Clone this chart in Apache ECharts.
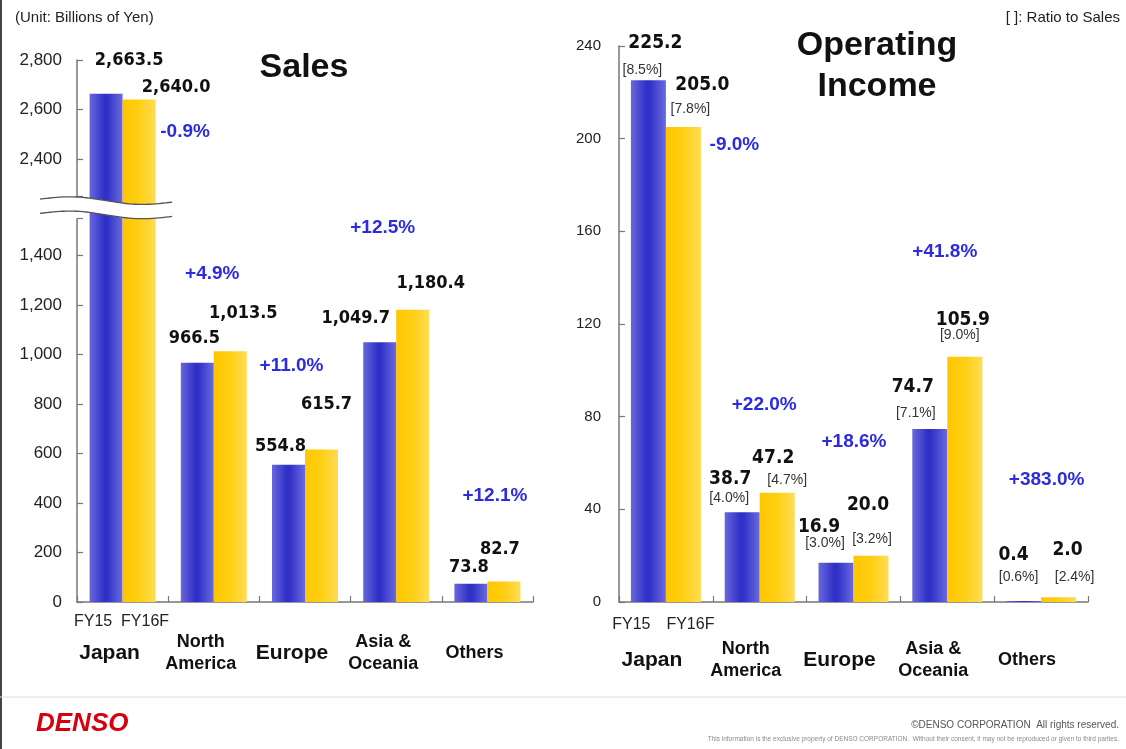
<!DOCTYPE html>
<html>
<head>
<meta charset="utf-8">
<script src="https://cdn.jsdelivr.net/npm/echarts@6.0.0/dist/echarts.min.js"></script>
<style>
  html, body { margin: 0; padding: 0; background: #fff; }
  #chart { width: 1126px; height: 749px; }
</style>
</head>
<body>
<div id="chart"></div>
<script>
// ---- data (billions of yen) ----
const regions = ['Japan', 'North\nAmerica', 'Europe', 'Asia &\nOceania', 'Others'];
const periods = ['FY15', 'FY16F'];

const salesFY15  = [2663.5, 966.5, 554.8, 1049.7, 73.8];
const salesFY16F = [2640.0, 1013.5, 615.7, 1180.4, 82.7];
const salesGrowth = ['-0.9%', '+4.9%', '+11.0%', '+12.5%', '+12.1%'];

const incomeFY15  = [225.2, 38.7, 16.9, 74.7, 0.4];
const incomeFY16F = [205.0, 47.2, 20.0, 105.9, 2.0];
const ratioFY15  = ['[8.5%]', '[4.0%]', '[3.0%]', '[7.1%]', '[0.6%]'];
const ratioFY16F = ['[7.8%]', '[4.7%]', '[3.2%]', '[9.0%]', '[2.4%]'];
const incomeGrowth = ['-9.0%', '+22.0%', '+18.6%', '+41.8%', '+383.0%'];

const salesTicks  = [0, 200, 400, 600, 800, 1000, 1200, 1400, 2400, 2600, 2800];
const incomeTicks = [0, 40, 80, 120, 160, 200, 240];
const salesBreak  = [1550, 2250];   // compressed part of the sales axis

// ---- layout ----
const G1 = { left: 77, right: 593, top: 60, bottom: 147 };
const G2 = { left: 619, right: 38, top: 46, bottom: 147 };
const BW1 = 33, BW2 = 35;

// label nudges [dx, dy] for value labels
const salesShift15  = [[23, -19], [-3, -10], [-8, -4], [-24, -10], [-2, -2]];
const salesShift16  = [[37, 2], [13, -24], [5, -31], [18, -13], [-4, -18]];
const incomeShift15 = [[7, -23], [-12, -19], [-17, -21], [-17, -27], [-10, -32]];
const incomeShift16 = [[19, -28], [-4, -20], [-3, -36], [-2, -22], [9, -33]];
// ratio labels relative to bar top centre
const ratioShift15 = [[-6, -10], [-13, -14], [-11, -20], [-14, -16], [-5, -24]];
const ratioShift16 = [[7, -18], [10, -13], [1, -17], [-5, -22], [16, -20]];
// growth labels relative to the FY16F bar top centre
const salesGrowthShift  = [[46, 32], [-18, -77], [-30, -84], [-30, -82], [-9, -86]];
const incomeGrowthShift = [[51, 18], [-13, -88], [-17, -114], [-20, -105], [-12, -118]];

const BLUE = new echarts.graphic.LinearGradient(0, 0, 1, 0, [
  { offset: 0, color: '#6868dc' },
  { offset: 0.45, color: '#2f2fc7' },
  { offset: 0.55, color: '#3232c9' },
  { offset: 1, color: '#6a6ade' }
]);
const YELLOW = new echarts.graphic.LinearGradient(0, 0, 1, 0, [
  { offset: 0, color: '#ffc600' },
  { offset: 0.5, color: '#ffcf14' },
  { offset: 1, color: '#ffdc55' }
]);

const VALUE_FONT = "'DejaVu Sans Condensed', 'DejaVu Sans', Arial, sans-serif";
const fmtSales = v => v.toLocaleString('en-US', { minimumFractionDigits: 1, maximumFractionDigits: 1 });
const fmtIncome = v => v.toFixed(1);

function barData(values, shifts) {
  return values.map((v, i) => ({ value: v, label: { offset: shifts[i] } }));
}

const regionRich = {
  big: { fontSize: 21, fontWeight: 'bold', color: '#111', fontFamily: 'Arial, Liberation Sans, sans-serif', lineHeight: 22 },
  mid: { fontSize: 18, fontWeight: 'bold', color: '#111', fontFamily: 'Arial, Liberation Sans, sans-serif', lineHeight: 22 }
};
function regionLabel(name) {
  const style = (name === 'Japan' || name === 'Europe') ? 'big' : 'mid';
  return name.split('\n').map(s => '{' + style + '|' + s + '}').join('\n');
}

function catAxis(gridIndex, margin, shift) {
  return {
    type: 'category', gridIndex, data: regions,
    axisLine: { show: true, lineStyle: { color: '#777', width: 1.5 } },
    axisTick: { show: true, inside: true, length: 6, lineStyle: { color: '#777', width: 1.2 } },
    axisLabel: {
      interval: 0, margin, verticalAlign: 'middle', align: 'center',
      padding: [0, shift * 2, 0, 0],
      formatter: regionLabel, rich: regionRich
    },
    splitLine: { show: false }
  };
}

const chart = echarts.init(document.getElementById('chart'), null, { renderer: 'canvas' });

const option = {
  backgroundColor: '#fff',
  animation: false,
  grid: [
    { left: G1.left, right: G1.right, top: G1.top, bottom: G1.bottom },
    { left: G2.left, right: G2.right, top: G2.top, bottom: G2.bottom }
  ],
  xAxis: [catAxis(0, 51, 13), catAxis(1, 58, 14)],
  yAxis: [
    {
      type: 'value', gridIndex: 0, min: 0, max: 2800, interval: 200,
      breaks: [{ start: salesBreak[0], end: salesBreak[1], gap: 90 }],
      breakArea: { show: false, expandOnClick: false },
      axisLine: { show: true, lineStyle: { color: '#777', width: 1.5 } },
      axisTick: { show: true, inside: true, length: 6, lineStyle: { color: '#777', width: 1.2 } },
      splitLine: { show: false },
      axisLabel: {
        margin: 15, color: '#222', fontSize: 17, fontFamily: 'Arial, Liberation Sans, sans-serif',
        formatter: v => salesTicks.includes(v) ? v.toLocaleString('en-US') : ''
      }
    },
    {
      type: 'value', gridIndex: 1, min: 0, max: 240, interval: 40,
      axisLine: { show: true, lineStyle: { color: '#777', width: 1.5 } },
      axisTick: { show: true, inside: true, length: 6, lineStyle: { color: '#777', width: 1.2 } },
      splitLine: { show: false },
      axisLabel: {
        margin: 18, color: '#222', fontSize: 15, fontFamily: 'Arial, Liberation Sans, sans-serif',
        formatter: v => incomeTicks.includes(v) ? String(v) : ''
      }
    }
  ],
  series: [
    {
      name: periods[0], type: 'bar', xAxisIndex: 0, yAxisIndex: 0,
      barWidth: BW1, barGap: '0%', itemStyle: { color: BLUE },
      data: barData(salesFY15, salesShift15),
      label: { show: true, position: 'top', distance: 5, color: '#111', fontSize: 18, fontWeight: 'bold',
               fontFamily: VALUE_FONT, formatter: p => fmtSales(p.value) }
    },
    {
      name: periods[1], type: 'bar', xAxisIndex: 0, yAxisIndex: 0,
      barWidth: BW1, barGap: '0%', itemStyle: { color: YELLOW },
      data: barData(salesFY16F, salesShift16),
      label: { show: true, position: 'top', distance: 5, color: '#111', fontSize: 18, fontWeight: 'bold',
               fontFamily: VALUE_FONT, formatter: p => fmtSales(p.value) }
    },
    {
      name: periods[0], type: 'bar', xAxisIndex: 1, yAxisIndex: 1,
      barWidth: BW2, barGap: '0%', itemStyle: { color: BLUE },
      data: barData(incomeFY15, incomeShift15),
      label: { show: true, position: 'top', distance: 5, color: '#111', fontSize: 19, fontWeight: 'bold',
               fontFamily: VALUE_FONT, formatter: p => fmtIncome(p.value) }
    },
    {
      name: periods[1], type: 'bar', xAxisIndex: 1, yAxisIndex: 1,
      barWidth: BW2, barGap: '0%', itemStyle: { color: YELLOW },
      data: barData(incomeFY16F, incomeShift16),
      label: { show: true, position: 'top', distance: 5, color: '#111', fontSize: 19, fontWeight: 'bold',
               fontFamily: VALUE_FONT, formatter: p => fmtIncome(p.value) }
    }
  ]
};
chart.setOption(option);

// ---- annotations anchored to the bars ----
function barTop(g, cat, value, side, bw) {
  const p = chart.convertToPixel({ xAxisIndex: g, yAxisIndex: g }, [cat, value]);
  return [p[0] + side * bw / 2, p[1]];
}
function text(str, x, y, font, fill, align) {
  return {
    type: 'text', x, y, z: 120, silent: true,
    style: { text: str, font, fill, textAlign: align || 'center', textVerticalAlign: 'middle' }
  };
}

const growthFont = "bold 19px Arial, 'Liberation Sans', sans-serif";
const growthColor = '#2b2be0';
const ratioFont = "14px Arial, 'Liberation Sans', sans-serif";
const g = [];

regions.forEach((r, i) => {
  // sales growth
  const s16 = barTop(0, i, salesFY16F[i], 1, BW1);
  g.push(text(salesGrowth[i], s16[0] + salesGrowthShift[i][0], s16[1] + salesGrowthShift[i][1], growthFont, growthColor));
  // income growth and ratios
  const i15 = barTop(1, i, incomeFY15[i], -1, BW2);
  const i16 = barTop(1, i, incomeFY16F[i], 1, BW2);
  g.push(text(incomeGrowth[i], i16[0] + incomeGrowthShift[i][0], i16[1] + incomeGrowthShift[i][1], growthFont, growthColor));
  g.push(text(ratioFY15[i], i15[0] + ratioShift15[i][0], i15[1] + ratioShift15[i][1], ratioFont, '#333'));
  g.push(text(ratioFY16F[i], i16[0] + ratioShift16[i][0], i16[1] + ratioShift16[i][1], ratioFont, '#333'));
});

// period names under the Japan bars
const periodFont = "16px Arial, 'Liberation Sans', sans-serif";
[[0, BW1, -13, 6, 20], [1, BW2, -17, 7, 23]].forEach(([gi, bw, d15, d16, dy]) => {
  const a = barTop(gi, 0, 0, -1, bw);
  const b = barTop(gi, 0, 0, 1, bw);
  g.push(text(periods[0], a[0] + d15, a[1] + dy, periodFont, '#222'));
  g.push(text(periods[1], b[0] + d16, b[1] + dy, periodFont, '#222'));
});

// axis break marker on the sales axis
const yHi = chart.convertToPixel({ yAxisIndex: 0 }, salesBreak[1]);
const yLo = chart.convertToPixel({ yAxisIndex: 0 }, salesBreak[0]);
const jp = barTop(0, 0, 0, 1, BW1);
const wx0 = G1.left - 37, wx1 = jp[0] + 33;
function wave(base) {
  const pts = [];
  for (let k = 0; k <= 40; k++) {
    const t = k / 40;
    pts.push([wx0 + (wx1 - wx0) * t, base - 3 * Math.sin(2 * Math.PI * t) + 3 * t]);
  }
  return pts;
}
const upBase = yHi + 3, lowBase = yLo - 5;
const up = wave(upBase), low = wave(lowBase);
g.push({ type: 'polygon', z: 110, silent: true, shape: { points: up.concat(low.slice().reverse()) }, style: { fill: '#fff' } });
g.push({ type: 'polyline', z: 111, silent: true, shape: { points: up }, style: { stroke: '#555', lineWidth: 1.3, fill: null } });
g.push({ type: 'polyline', z: 111, silent: true, shape: { points: low }, style: { stroke: '#555', lineWidth: 1.3, fill: null } });

// titles and notes
g.push(text('Sales', 304, 68, "bold 34px Arial, 'Liberation Sans', sans-serif", '#111'));
g.push(text('Operating', 877, 46, "bold 34px Arial, 'Liberation Sans', sans-serif", '#111'));
g.push(text('Income', 877, 87, "bold 34px Arial, 'Liberation Sans', sans-serif", '#111'));
g.push(text('(Unit: Billions of Yen)', 15, 18, "15px Arial, 'Liberation Sans', sans-serif", '#222', 'left'));
g.push(text('[ ]: Ratio to Sales', 1120, 18, "15px Arial, 'Liberation Sans', sans-serif", '#222', 'right'));

// page frame and footer
g.push({ type: 'line', z: 100, silent: true, shape: { x1: 1, y1: 0, x2: 1, y2: 749 }, style: { stroke: '#444', lineWidth: 2 } });
g.push({ type: 'line', z: 100, silent: true, shape: { x1: 0, y1: 697, x2: 1126, y2: 697 }, style: { stroke: '#dcdcdc', lineWidth: 1 } });
g.push(text('DENSO', 36, 724, "italic bold 26px Arial, 'Liberation Sans', sans-serif", '#d7000f', 'left'));
g.push(text('\u00A9DENSO CORPORATION  All rights reserved.', 1119, 725, "10px Arial, 'Liberation Sans', sans-serif", '#555', 'right'));
g.push(text('This information is the exclusive property of DENSO CORPORATION.  Without their consent, it may not be reproduced or given to third parties.',
  1119, 739, "6.5px Arial, 'Liberation Sans', sans-serif", '#8a8a8a', 'right'));

chart.setOption({ graphic: { elements: g } });
</script>
</body>
</html>
